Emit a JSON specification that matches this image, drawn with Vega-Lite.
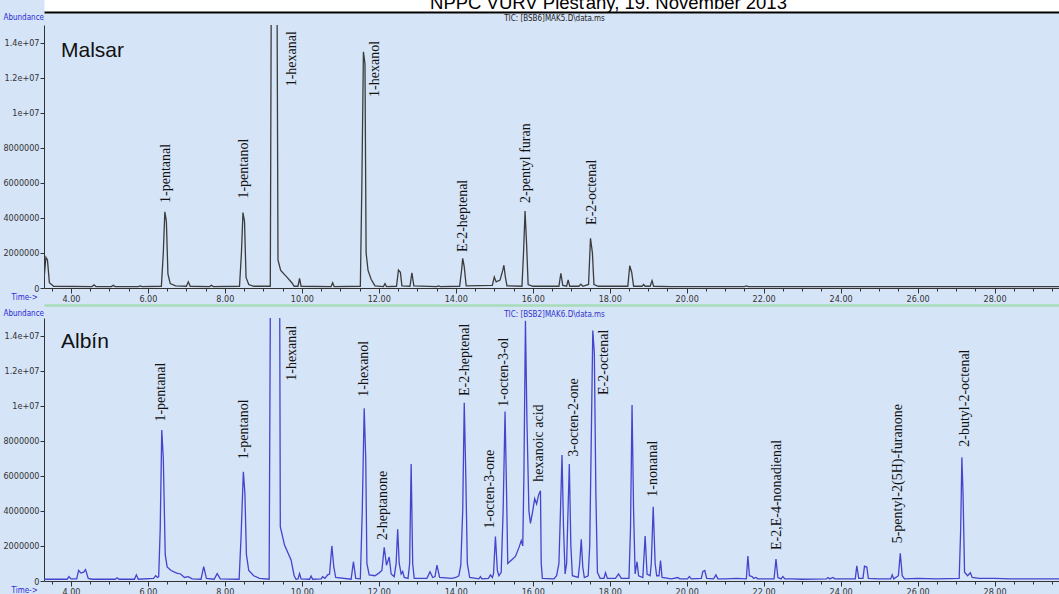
{
  "$schema": "https://vega.github.io/schema/vega-lite/v6.json",
  "background": "#d5e4f7",
  "padding": {"top": -7, "left": 2, "right": 0, "bottom": 0},
  "bounds": "flush",
  "spacing": 30,
  "config": {
    "view": {"stroke": null},
    "axis": {
      "grid": false,
      "labelFont": "Liberation Sans Narrow, DejaVu Sans Condensed, Liberation Sans",
      "labelFontSize": 9,
      "labelColor": "#333333",
      "labelPadding": 1,
      "labelOverlap": false,
      "labelFlush": false,
      "domainColor": "#333333",
      "tickColor": "#333333",
      "titleFont": "Liberation Sans Narrow, DejaVu Sans Condensed, Liberation Sans",
      "titleFontSize": 8,
      "titleFontWeight": "normal",
      "titleColor": "#2b2bd6"
    }
  },
  "datasets": {
    "malsar": [
      {"t": 3.30, "a": 500000}, {"t": 3.35, "a": 1750000}, {"t": 3.39, "a": 1600000}, {"t": 3.44, "a": 300000}, {"t": 3.55, "a": 100000},
      {"t": 4.55, "a": 80000}, {"t": 4.60, "a": 180000}, {"t": 4.65, "a": 80000},
      {"t": 5.05, "a": 80000}, {"t": 5.10, "a": 150000}, {"t": 5.15, "a": 80000},
      {"t": 5.75, "a": 80000}, {"t": 5.80, "a": 120000}, {"t": 5.85, "a": 80000},
      {"t": 6.35, "a": 100000}, {"t": 6.40, "a": 2000000}, {"t": 6.44, "a": 4350000}, {"t": 6.48, "a": 3800000}, {"t": 6.52, "a": 800000}, {"t": 6.58, "a": 250000}, {"t": 6.72, "a": 120000},
      {"t": 7.00, "a": 100000}, {"t": 7.05, "a": 350000}, {"t": 7.10, "a": 100000},
      {"t": 7.60, "a": 80000}, {"t": 7.65, "a": 150000}, {"t": 7.70, "a": 80000},
      {"t": 8.38, "a": 100000}, {"t": 8.43, "a": 2000000}, {"t": 8.47, "a": 4300000}, {"t": 8.51, "a": 3800000}, {"t": 8.55, "a": 600000}, {"t": 8.62, "a": 200000}, {"t": 8.75, "a": 100000},
      {"t": 9.18, "a": 100000}, {"t": 9.21, "a": 20000000}, {"t": 9.35, "a": 20000000}, {"t": 9.38, "a": 1600000}, {"t": 9.45, "a": 1000000}, {"t": 9.60, "a": 650000}, {"t": 9.74, "a": 300000}, {"t": 9.80, "a": 100000},
      {"t": 9.90, "a": 100000}, {"t": 9.94, "a": 550000}, {"t": 9.98, "a": 100000},
      {"t": 10.76, "a": 80000}, {"t": 10.80, "a": 300000}, {"t": 10.84, "a": 80000},
      {"t": 11.52, "a": 100000}, {"t": 11.56, "a": 6000000}, {"t": 11.60, "a": 13470000}, {"t": 11.64, "a": 12800000}, {"t": 11.67, "a": 2000000}, {"t": 11.72, "a": 1000000}, {"t": 11.80, "a": 500000}, {"t": 11.90, "a": 120000},
      {"t": 12.12, "a": 80000}, {"t": 12.16, "a": 250000}, {"t": 12.20, "a": 80000},
      {"t": 12.46, "a": 100000}, {"t": 12.51, "a": 1030000}, {"t": 12.56, "a": 900000}, {"t": 12.60, "a": 120000},
      {"t": 12.81, "a": 100000}, {"t": 12.86, "a": 870000}, {"t": 12.91, "a": 120000},
      {"t": 13.50, "a": 80000}, {"t": 13.55, "a": 120000}, {"t": 13.60, "a": 80000},
      {"t": 14.10, "a": 100000}, {"t": 14.15, "a": 1000000}, {"t": 14.18, "a": 1690000}, {"t": 14.22, "a": 1200000}, {"t": 14.27, "a": 120000},
      {"t": 14.95, "a": 150000}, {"t": 15.00, "a": 630000}, {"t": 15.05, "a": 350000}, {"t": 15.15, "a": 450000}, {"t": 15.22, "a": 1000000}, {"t": 15.25, "a": 1300000}, {"t": 15.29, "a": 600000}, {"t": 15.33, "a": 120000},
      {"t": 15.72, "a": 100000}, {"t": 15.76, "a": 2000000}, {"t": 15.80, "a": 4390000}, {"t": 15.84, "a": 2500000}, {"t": 15.88, "a": 200000}, {"t": 16.00, "a": 100000},
      {"t": 16.68, "a": 100000}, {"t": 16.73, "a": 840000}, {"t": 16.78, "a": 150000},
      {"t": 16.88, "a": 100000}, {"t": 16.92, "a": 460000}, {"t": 16.96, "a": 100000},
      {"t": 17.20, "a": 100000}, {"t": 17.25, "a": 220000}, {"t": 17.30, "a": 100000},
      {"t": 17.45, "a": 200000}, {"t": 17.50, "a": 2830000}, {"t": 17.55, "a": 2000000}, {"t": 17.59, "a": 200000}, {"t": 17.70, "a": 100000},
      {"t": 18.47, "a": 100000}, {"t": 18.52, "a": 1270000}, {"t": 18.57, "a": 900000}, {"t": 18.62, "a": 100000},
      {"t": 18.84, "a": 100000}, {"t": 18.88, "a": 200000}, {"t": 18.92, "a": 100000},
      {"t": 19.05, "a": 100000}, {"t": 19.10, "a": 420000}, {"t": 19.14, "a": 100000},
      {"t": 19.60, "a": 80000}, {"t": 21.50, "a": 80000}, {"t": 21.55, "a": 120000}, {"t": 21.60, "a": 80000},
      {"t": 24.00, "a": 80000}, {"t": 29.70, "a": 80000}
    ],
    "malsar_labels": [
      {"t": 6.46, "a": 4850000, "name": "1-pentanal"},
      {"t": 8.50, "a": 5100000, "name": "1-pentanol"},
      {"t": 9.74, "a": 11500000, "name": "1-hexanal"},
      {"t": 11.90, "a": 10900000, "name": "1-hexanol"},
      {"t": 14.20, "a": 2050000, "name": "E-2-heptenal"},
      {"t": 15.83, "a": 4850000, "name": "2-pentyl furan"},
      {"t": 17.54, "a": 3600000, "name": "E-2-octenal"}
    ],
    "albin": [
      {"t": 3.30, "a": 100000}, {"t": 3.90, "a": 100000}, {"t": 3.95, "a": 250000}, {"t": 4.00, "a": 120000},
      {"t": 4.15, "a": 120000}, {"t": 4.20, "a": 600000}, {"t": 4.26, "a": 450000}, {"t": 4.33, "a": 500000}, {"t": 4.38, "a": 650000}, {"t": 4.45, "a": 150000}, {"t": 4.55, "a": 100000},
      {"t": 5.15, "a": 100000}, {"t": 5.20, "a": 180000}, {"t": 5.25, "a": 100000},
      {"t": 5.65, "a": 100000}, {"t": 5.70, "a": 350000}, {"t": 5.75, "a": 100000},
      {"t": 6.15, "a": 150000}, {"t": 6.20, "a": 300000}, {"t": 6.25, "a": 200000},
      {"t": 6.28, "a": 250000}, {"t": 6.32, "a": 3000000}, {"t": 6.36, "a": 8610000}, {"t": 6.40, "a": 7000000}, {"t": 6.45, "a": 1500000}, {"t": 6.50, "a": 800000}, {"t": 6.60, "a": 600000}, {"t": 6.75, "a": 450000}, {"t": 6.85, "a": 400000}, {"t": 6.95, "a": 200000}, {"t": 7.05, "a": 250000}, {"t": 7.15, "a": 120000},
      {"t": 7.38, "a": 100000}, {"t": 7.45, "a": 820000}, {"t": 7.52, "a": 150000},
      {"t": 7.72, "a": 100000}, {"t": 7.80, "a": 420000}, {"t": 7.88, "a": 120000},
      {"t": 8.37, "a": 100000}, {"t": 8.42, "a": 2500000}, {"t": 8.48, "a": 6230000}, {"t": 8.52, "a": 5000000}, {"t": 8.56, "a": 1500000}, {"t": 8.62, "a": 600000}, {"t": 8.75, "a": 300000}, {"t": 8.90, "a": 150000},
      {"t": 9.15, "a": 100000}, {"t": 9.19, "a": 20000000}, {"t": 9.42, "a": 20000000}, {"t": 9.44, "a": 3100000}, {"t": 9.55, "a": 2050000}, {"t": 9.72, "a": 1200000}, {"t": 9.80, "a": 300000}, {"t": 9.85, "a": 100000},
      {"t": 9.90, "a": 120000}, {"t": 9.94, "a": 420000}, {"t": 9.98, "a": 120000},
      {"t": 10.20, "a": 100000}, {"t": 10.24, "a": 280000}, {"t": 10.28, "a": 100000},
      {"t": 10.50, "a": 120000}, {"t": 10.54, "a": 250000}, {"t": 10.60, "a": 150000}, {"t": 10.67, "a": 350000}, {"t": 10.72, "a": 400000}, {"t": 10.78, "a": 2000000}, {"t": 10.83, "a": 800000}, {"t": 10.88, "a": 200000},
      {"t": 11.28, "a": 100000}, {"t": 11.34, "a": 1100000}, {"t": 11.40, "a": 150000},
      {"t": 11.52, "a": 120000}, {"t": 11.57, "a": 4000000}, {"t": 11.62, "a": 9850000}, {"t": 11.66, "a": 7000000}, {"t": 11.69, "a": 1000000}, {"t": 11.75, "a": 350000}, {"t": 11.90, "a": 300000}, {"t": 12.00, "a": 450000}, {"t": 12.08, "a": 600000},
      {"t": 12.14, "a": 1920000}, {"t": 12.20, "a": 900000}, {"t": 12.27, "a": 1370000}, {"t": 12.32, "a": 400000}, {"t": 12.40, "a": 250000},
      {"t": 12.45, "a": 1000000}, {"t": 12.49, "a": 2950000}, {"t": 12.53, "a": 1000000}, {"t": 12.58, "a": 400000}, {"t": 12.62, "a": 550000}, {"t": 12.66, "a": 200000}, {"t": 12.76, "a": 150000},
      {"t": 12.80, "a": 1000000}, {"t": 12.84, "a": 6670000}, {"t": 12.88, "a": 1000000}, {"t": 12.92, "a": 150000},
      {"t": 13.25, "a": 150000}, {"t": 13.33, "a": 530000}, {"t": 13.40, "a": 200000}, {"t": 13.46, "a": 250000}, {"t": 13.51, "a": 900000}, {"t": 13.58, "a": 200000},
      {"t": 13.90, "a": 150000}, {"t": 14.00, "a": 200000},
      {"t": 14.08, "a": 300000}, {"t": 14.13, "a": 900000}, {"t": 14.18, "a": 4000000}, {"t": 14.22, "a": 10170000}, {"t": 14.26, "a": 6000000}, {"t": 14.30, "a": 1000000}, {"t": 14.36, "a": 200000},
      {"t": 14.60, "a": 120000}, {"t": 14.64, "a": 250000}, {"t": 14.68, "a": 120000},
      {"t": 14.85, "a": 150000}, {"t": 14.90, "a": 350000}, {"t": 14.95, "a": 200000},
      {"t": 14.98, "a": 400000}, {"t": 15.03, "a": 2530000}, {"t": 15.08, "a": 600000}, {"t": 15.12, "a": 300000},
      {"t": 15.18, "a": 500000}, {"t": 15.23, "a": 4000000}, {"t": 15.28, "a": 9660000}, {"t": 15.32, "a": 5000000}, {"t": 15.35, "a": 1000000}, {"t": 15.45, "a": 1200000}, {"t": 15.55, "a": 1400000}, {"t": 15.65, "a": 1960000}, {"t": 15.70, "a": 2300000}, {"t": 15.74, "a": 2000000},
      {"t": 15.77, "a": 6000000}, {"t": 15.81, "a": 14840000}, {"t": 15.85, "a": 9000000}, {"t": 15.90, "a": 4000000}, {"t": 15.94, "a": 3290000}, {"t": 16.00, "a": 4000000}, {"t": 16.05, "a": 4700000}, {"t": 16.10, "a": 4400000}, {"t": 16.15, "a": 4900000}, {"t": 16.20, "a": 5150000}, {"t": 16.22, "a": 1000000}, {"t": 16.25, "a": 150000},
      {"t": 16.55, "a": 120000}, {"t": 16.62, "a": 300000},
      {"t": 16.68, "a": 1000000}, {"t": 16.72, "a": 4000000}, {"t": 16.76, "a": 7190000}, {"t": 16.80, "a": 3000000}, {"t": 16.84, "a": 400000}, {"t": 16.88, "a": 1000000}, {"t": 16.91, "a": 3500000}, {"t": 16.95, "a": 6670000}, {"t": 16.99, "a": 2000000}, {"t": 17.03, "a": 300000},
      {"t": 17.18, "a": 200000}, {"t": 17.22, "a": 1000000}, {"t": 17.26, "a": 2380000}, {"t": 17.30, "a": 800000}, {"t": 17.34, "a": 200000},
      {"t": 17.44, "a": 300000}, {"t": 17.48, "a": 2000000}, {"t": 17.52, "a": 8000000}, {"t": 17.56, "a": 14280000}, {"t": 17.60, "a": 13000000}, {"t": 17.64, "a": 5000000}, {"t": 17.68, "a": 500000}, {"t": 17.75, "a": 150000},
      {"t": 17.85, "a": 150000}, {"t": 17.89, "a": 470000}, {"t": 17.94, "a": 150000},
      {"t": 18.15, "a": 150000}, {"t": 18.23, "a": 400000}, {"t": 18.30, "a": 150000},
      {"t": 18.50, "a": 150000}, {"t": 18.54, "a": 3000000}, {"t": 18.58, "a": 10040000}, {"t": 18.62, "a": 4000000}, {"t": 18.66, "a": 400000}, {"t": 18.71, "a": 1100000}, {"t": 18.75, "a": 300000},
      {"t": 18.86, "a": 200000}, {"t": 18.92, "a": 2570000}, {"t": 18.97, "a": 400000}, {"t": 19.05, "a": 300000},
      {"t": 19.08, "a": 1000000}, {"t": 19.13, "a": 4240000}, {"t": 19.18, "a": 1000000}, {"t": 19.22, "a": 300000}, {"t": 19.28, "a": 300000}, {"t": 19.32, "a": 1160000}, {"t": 19.36, "a": 200000},
      {"t": 19.60, "a": 120000}, {"t": 19.77, "a": 200000}, {"t": 19.82, "a": 120000},
      {"t": 20.02, "a": 120000}, {"t": 20.07, "a": 250000}, {"t": 20.12, "a": 120000},
      {"t": 20.38, "a": 150000}, {"t": 20.42, "a": 550000}, {"t": 20.47, "a": 600000}, {"t": 20.52, "a": 150000},
      {"t": 20.70, "a": 120000}, {"t": 20.76, "a": 350000}, {"t": 20.81, "a": 120000},
      {"t": 21.00, "a": 120000}, {"t": 21.30, "a": 150000},
      {"t": 21.55, "a": 120000}, {"t": 21.59, "a": 1430000}, {"t": 21.63, "a": 300000}, {"t": 21.70, "a": 250000}, {"t": 21.74, "a": 150000}, {"t": 21.80, "a": 200000}, {"t": 21.85, "a": 120000},
      {"t": 22.27, "a": 120000}, {"t": 22.32, "a": 1250000}, {"t": 22.37, "a": 200000}, {"t": 22.45, "a": 120000}, {"t": 22.50, "a": 250000}, {"t": 22.55, "a": 120000},
      {"t": 22.75, "a": 120000}, {"t": 23.00, "a": 100000},
      {"t": 23.63, "a": 120000}, {"t": 23.67, "a": 200000}, {"t": 23.72, "a": 120000}, {"t": 23.80, "a": 200000}, {"t": 23.85, "a": 120000},
      {"t": 24.38, "a": 120000}, {"t": 24.42, "a": 870000}, {"t": 24.47, "a": 150000}, {"t": 24.58, "a": 150000}, {"t": 24.62, "a": 850000}, {"t": 24.68, "a": 800000}, {"t": 24.72, "a": 150000},
      {"t": 25.00, "a": 120000},
      {"t": 25.30, "a": 120000}, {"t": 25.34, "a": 350000}, {"t": 25.38, "a": 120000}, {"t": 25.50, "a": 300000}, {"t": 25.55, "a": 1580000}, {"t": 25.60, "a": 300000}, {"t": 25.66, "a": 120000},
      {"t": 26.00, "a": 150000}, {"t": 26.50, "a": 120000},
      {"t": 27.08, "a": 150000}, {"t": 27.12, "a": 3000000}, {"t": 27.15, "a": 7050000}, {"t": 27.18, "a": 5000000}, {"t": 27.22, "a": 500000}, {"t": 27.30, "a": 300000}, {"t": 27.37, "a": 470000}, {"t": 27.42, "a": 200000},
      {"t": 27.60, "a": 150000}, {"t": 28.00, "a": 150000}, {"t": 28.40, "a": 120000}, {"t": 29.00, "a": 120000}, {"t": 29.70, "a": 120000}
    ],
    "albin_labels": [
      {"t": 6.34, "a": 9090000, "name": "1-pentanal"},
      {"t": 8.50, "a": 6940000, "name": "1-pentanol"},
      {"t": 9.74, "a": 11420000, "name": "1-hexanal"},
      {"t": 11.62, "a": 10510000, "name": "1-hexanol"},
      {"t": 12.12, "a": 2340000, "name": "2-heptanone"},
      {"t": 14.24, "a": 10550000, "name": "E-2-heptenal"},
      {"t": 14.90, "a": 3000000, "name": "1-octen-3-one"},
      {"t": 15.25, "a": 9940000, "name": "1-octen-3-ol"},
      {"t": 16.16, "a": 5660000, "name": "hexanoic acid"},
      {"t": 17.08, "a": 7090000, "name": "3-octen-2-one"},
      {"t": 17.86, "a": 10610000, "name": "E-2-octenal"},
      {"t": 19.12, "a": 4810000, "name": "1-nonanal"},
      {"t": 22.35, "a": 1770000, "name": "E-2,E-4-nonadienal"},
      {"t": 25.49, "a": 2150000, "name": "5-pentyl-2(5H)-furanone"},
      {"t": 27.22, "a": 7660000, "name": "2-butyl-2-octenal"}
    ]
  },
  "vconcat": [
    {
      "width": 1016,
      "height": 263,
      "title": {"text": "Malsar", "anchor": "start", "frame": "group", "orient": "top", "offset": 0, "dx": 17, "dy": 85, "baseline": "alphabetic", "font": "Liberation Sans", "fontSize": 21, "fontWeight": "normal", "color": "#111111"},
      "encoding": {
        "y": {
          "field": "a", "type": "quantitative",
          "scale": {"domain": [0, 15000000], "nice": false},
          "axis": {
            "orient": "left", "labelOverlap": false,
            "values": [0,2000000,4000000,6000000,8000000,10000000,12000000,14000000],
            "labelExpr": "datum.value == 14000000 ? '1.4e+07' : datum.value == 12000000 ? '1.2e+07' : datum.value == 10000000 ? '1e+07' : format(datum.value, 'd')",
            "tickSize": 4,
            "title": "Abundance", "titleX": -41, "titleY": -8, "titleAlign": "left", "titleBaseline": "middle", "titleAngle": 0
          }
        }
      },
      "layer": [
        {
          "data": {"name": "malsar"},
          "mark": {"type": "line", "clip": true, "color": "#3c3c3c", "strokeWidth": 1.3, "interpolate": "linear"},
          "encoding": {
            "x": {
              "field": "t", "type": "quantitative",
              "scale": {"domain": [3.3, 29.7], "nice": false, "zero": false},
              "axis": {
                "orient": "bottom", "labelOverlap": false,
                "values": [3.5,4,4.5,5,5.5,6,6.5,7,7.5,8,8.5,9,9.5,10,10.5,11,11.5,12,12.5,13,13.5,14,14.5,15,15.5,16,16.5,17,17.5,18,18.5,19,19.5,20,20.5,21,21.5,22,22.5,23,23.5,24,24.5,25,25.5,26,26.5,27,27.5,28,28.5,29,29.5],
                "labelExpr": "datum.value % 2 == 0 ? format(datum.value, '.2f') : ''",
                "tickSize": {"condition": {"test": "datum.value % 2 == 0", "value": 5}, "value": 3},
                "title": "Time->", "titleX": -33, "titleY": 9, "titleAlign": "left", "titleBaseline": "middle", "titleAngle": 0
              }
            }
          }
        },
        {
          "data": {"name": "malsar_labels"},
          "mark": {"type": "text", "angle": 270, "align": "left", "baseline": "middle", "font": "Liberation Serif", "fontSize": 14, "color": "#111111"},
          "encoding": {
            "x": {
              "field": "t", "type": "quantitative",
              "axis": {
                "orient": "top", "offset": 19, "domainColor": "#ffffff", "domainWidth": 14, "ticks": false, "labels": false,
                "title": "NPPC VÚRV Piešťany, 19. November 2013",
                "titleFont": "Liberation Sans", "titleFontSize": 18.5, "titleColor": "#000000",
                "titleX": 564, "titleY": 2, "titleAlign": "center", "titleBaseline": "alphabetic", "titleAngle": 0
              }
            },
            "text": {"field": "name"}
          }
        },
        {
          "data": {"name": "malsar_labels"},
          "mark": {"type": "point", "opacity": 0},
          "encoding": {
            "x": {
              "field": "t", "type": "quantitative",
              "axis": {
                "orient": "top", "offset": 13, "domainColor": "#000000", "domainWidth": 2, "ticks": false, "labels": false,
                "title": "TIC: [BSB6]MAK5.D\\data.ms",
                "titleColor": "#222222", "titleX": 510, "titleY": 6, "titleAlign": "center", "titleBaseline": "middle", "titleAngle": 0
              }
            }
          }
        }
      ]
    },
    {
      "width": 1016,
      "height": 263,
      "title": {"text": "Albín", "anchor": "start", "frame": "group", "orient": "top", "offset": 0, "dx": 17, "dy": 64, "baseline": "alphabetic", "font": "Liberation Sans", "fontSize": 21, "fontWeight": "normal", "color": "#111111"},
      "encoding": {
        "y": {
          "field": "a", "type": "quantitative",
          "scale": {"domain": [0, 15000000], "nice": false},
          "axis": {
            "orient": "left", "labelOverlap": false,
            "values": [0,2000000,4000000,6000000,8000000,10000000,12000000,14000000],
            "labelExpr": "datum.value == 14000000 ? '1.4e+07' : datum.value == 12000000 ? '1.2e+07' : datum.value == 10000000 ? '1e+07' : format(datum.value, 'd')",
            "tickSize": 4,
            "title": "Abundance", "titleX": -41, "titleY": -5, "titleAlign": "left", "titleBaseline": "middle", "titleAngle": 0
          }
        }
      },
      "layer": [
        {
          "data": {"name": "albin"},
          "mark": {"type": "line", "clip": true, "color": "#4444cc", "strokeWidth": 1.3, "interpolate": "linear"},
          "encoding": {
            "x": {
              "field": "t", "type": "quantitative",
              "scale": {"domain": [3.3, 29.7], "nice": false, "zero": false},
              "axis": {
                "orient": "bottom", "labelOverlap": false,
                "values": [3.5,4,4.5,5,5.5,6,6.5,7,7.5,8,8.5,9,9.5,10,10.5,11,11.5,12,12.5,13,13.5,14,14.5,15,15.5,16,16.5,17,17.5,18,18.5,19,19.5,20,20.5,21,21.5,22,22.5,23,23.5,24,24.5,25,25.5,26,26.5,27,27.5,28,28.5,29,29.5],
                "labelExpr": "datum.value % 2 == 0 ? format(datum.value, '.2f') : ''",
                "tickSize": {"condition": {"test": "datum.value % 2 == 0", "value": 5}, "value": 3},
                "title": "Time->", "titleX": -33, "titleY": 9, "titleAlign": "left", "titleBaseline": "middle", "titleAngle": 0
              }
            }
          }
        },
        {
          "data": {"name": "albin_labels"},
          "mark": {"type": "text", "angle": 270, "align": "left", "baseline": "middle", "font": "Liberation Serif", "fontSize": 14, "color": "#111111"},
          "encoding": {
            "x": {
              "field": "t", "type": "quantitative",
              "axis": {
                "orient": "top", "offset": 13, "domainColor": "#a6dcb8", "domainWidth": 2.5, "ticks": false, "labels": false,
                "title": "TIC: [BSB2]MAK6.D\\data.ms",
                "titleColor": "#3333cc", "titleX": 510, "titleY": 9, "titleAlign": "center", "titleBaseline": "middle", "titleAngle": 0
              }
            },
            "text": {"field": "name"}
          }
        }
      ]
    }
  ]
}
